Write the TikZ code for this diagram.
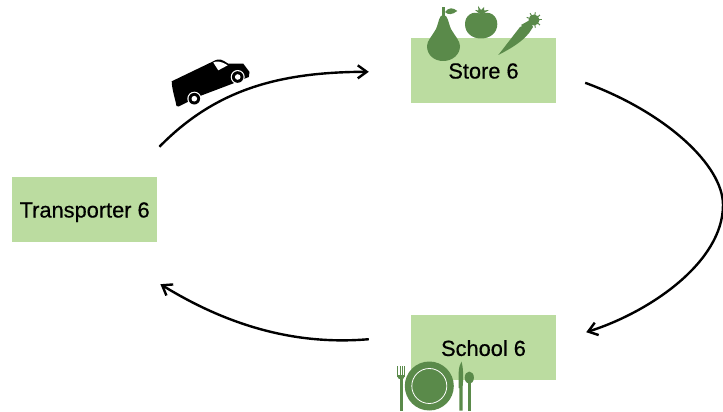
\documentclass[tikz,border=0pt]{standalone}
\usepackage{fontspec}
\newfontfamily\labelfont[FakeBold=0.5]{Liberation Sans}
\usetikzlibrary{arrows.meta, positioning}
\definecolor{panelgreen}{HTML}{BBDCA0}
\definecolor{drawgreen}{HTML}{5A8A4A}

\begin{document}
\begin{tikzpicture}[
  x=1pt, y=-1pt,
  node distance=212pt,
  % main boxes
  site/.style={fill=panelgreen, minimum width=145pt, minimum height=65pt,
               inner sep=0pt, font=\labelfont\fontsize{21.8}{26}\selectfont,
               text height=16pt, text depth=0pt},
  % arrows
  arr/.style={-{Straight Barb[length=9pt, width=13pt, line width=2.4pt]}, black, line width=2.4pt},
  % icons
  icon/.style={fill=drawgreen, draw=none},
  vanbody/.style={fill=black, draw=none},
]
\useasboundingbox (0,0) rectangle (723,412);

% ── BOXES ────────────────────
\node[site] (store) at (483.5,70.5) {Store 6};
\node[site, below=of store] (school) {School 6};
\node[site, anchor=west] (transporter) at (12,209.5) {Transporter 6};

% ── ARROW ENDS ────────────────────
\coordinate (transout) at ([shift={(2,-30)}]transporter.north east);
\coordinate (storein) at ([shift={(-42,34)}]store.north west);
\coordinate (storeout) at ([shift={(29,45)}]store.north east);
\coordinate (schoolin) at ([shift={(30,17)}]school.north east);
\coordinate (schoolout) at ([shift={(-42,24)}]school.north west);
\coordinate (transin) at ([shift={(3,42)}]transporter.south east);

% ── ARROWS ────────────────────
\draw[arr] (transout) .. controls (215,90) and (278,72) .. (storein);
\draw[arr] (storeout) .. controls (665,112) and (723,165) .. (723,205)
  .. controls (723,262) and (650,312) .. (schoolin);
\draw[arr] (schoolout) .. controls (290,346) and (222,322) .. (transin);

% ── VAN ────────────────────
\fill[vanbody] (171.7,81.3) -- (213.3,61.3) .. controls (216,59.5) and (220,58.5) .. (224,61)
  -- (228.3,63.7) -- (243.3,63.7) -- (249.5,72) -- (248.8,77) -- (231.7,84) -- (200,96)
  -- (178.5,106.5) -- (176.5,106) .. controls (175,98) and (172,90) .. cycle;
\fill[white] (213.3,62.5) .. controls (216,61) and (220,60.5) .. (227.7,65.3) -- (218.3,70.3) -- cycle;
\foreach \wx/\wy in {194.3/98.7, 237.7/77} {
  \fill[white] (\wx,\wy) circle (7);
  \fill[black] (\wx,\wy) circle (5.8);
  \fill[white] (\wx,\wy) circle (2.8);
}

% ── PEAR, TOMATO, CARROT ────────────────────
\fill[icon] (443.3,15) .. controls (448,15) and (448,22) .. (451,29)
  .. controls (455,36) and (460,41) .. (460,46)
  .. controls (460,55) and (452,61) .. (443.3,61)
  .. controls (434,61) and (427,55) .. (427,46)
  .. controls (427,41) and (432,36) .. (436,29)
  .. controls (439,22) and (439,15) .. cycle;
\fill[icon] (442,7) rectangle (444.5,17);
\fill[icon] (445,12) .. controls (449,7) and (453,7.5) .. (457.3,11)
  .. controls (452,15) and (448,15) .. cycle;
\fill[icon] (481,14) .. controls (490,10) and (497.3,16) .. (497.3,24)
  .. controls (497.3,33) and (490,38.5) .. (481,38.5)
  .. controls (472,38.5) and (465,33) .. (465,24)
  .. controls (465,16) and (472,10) .. cycle;
\fill[icon] (481,15) -- (475,10) -- (478.5,10.5) -- (478,6) -- (481,10) -- (484,7) -- (484,10.5) -- (489,10) -- cycle;
\fill[icon] (498.3,55) -- (520,27) .. controls (524,23) and (532,28) .. (529,33)
  .. controls (522,42) and (510,49) .. cycle;
\fill[icon] (521,25) -- (530,20) -- (533,27) -- (529,33) -- cycle;
\fill[icon] (534,20) circle (5.5);
\foreach \ang in {0,40,...,320} {
  \draw[drawgreen, line width=1pt] (534,20) -- ++(\ang:7.8);
}

% ── PLATE, FORK, KNIFE, SPOON ────────────────────
\fill[icon] (429.3,386) circle (24.5);
\draw[white, line width=0.8pt] (429.3,386) circle (17.5);
\foreach \tx in {397.3,399.5,401.7,403.9} {
  \fill[icon] (\tx,365.7) rectangle ++(1,11);
}
\fill[icon] (397.3,375) .. controls (397.3,381) and (404.9,381) .. (404.9,375) -- cycle;
\fill[icon] (399.5,378) rectangle (402.5,410.5);
\fill[icon] (458.7,388) -- (458.7,372) .. controls (459,367) and (460,364) .. (461.5,361.7)
  .. controls (463.5,368) and (463.5,380) .. (462.5,388) -- (462.5,410.5) -- (459.3,410.5) -- (459.3,388) -- cycle;
\fill[icon] (469.3,377.7) ellipse (4.6 and 6.2);
\fill[icon] (467.8,380) rectangle (470.9,410.5);

\end{tikzpicture}
\end{document}
